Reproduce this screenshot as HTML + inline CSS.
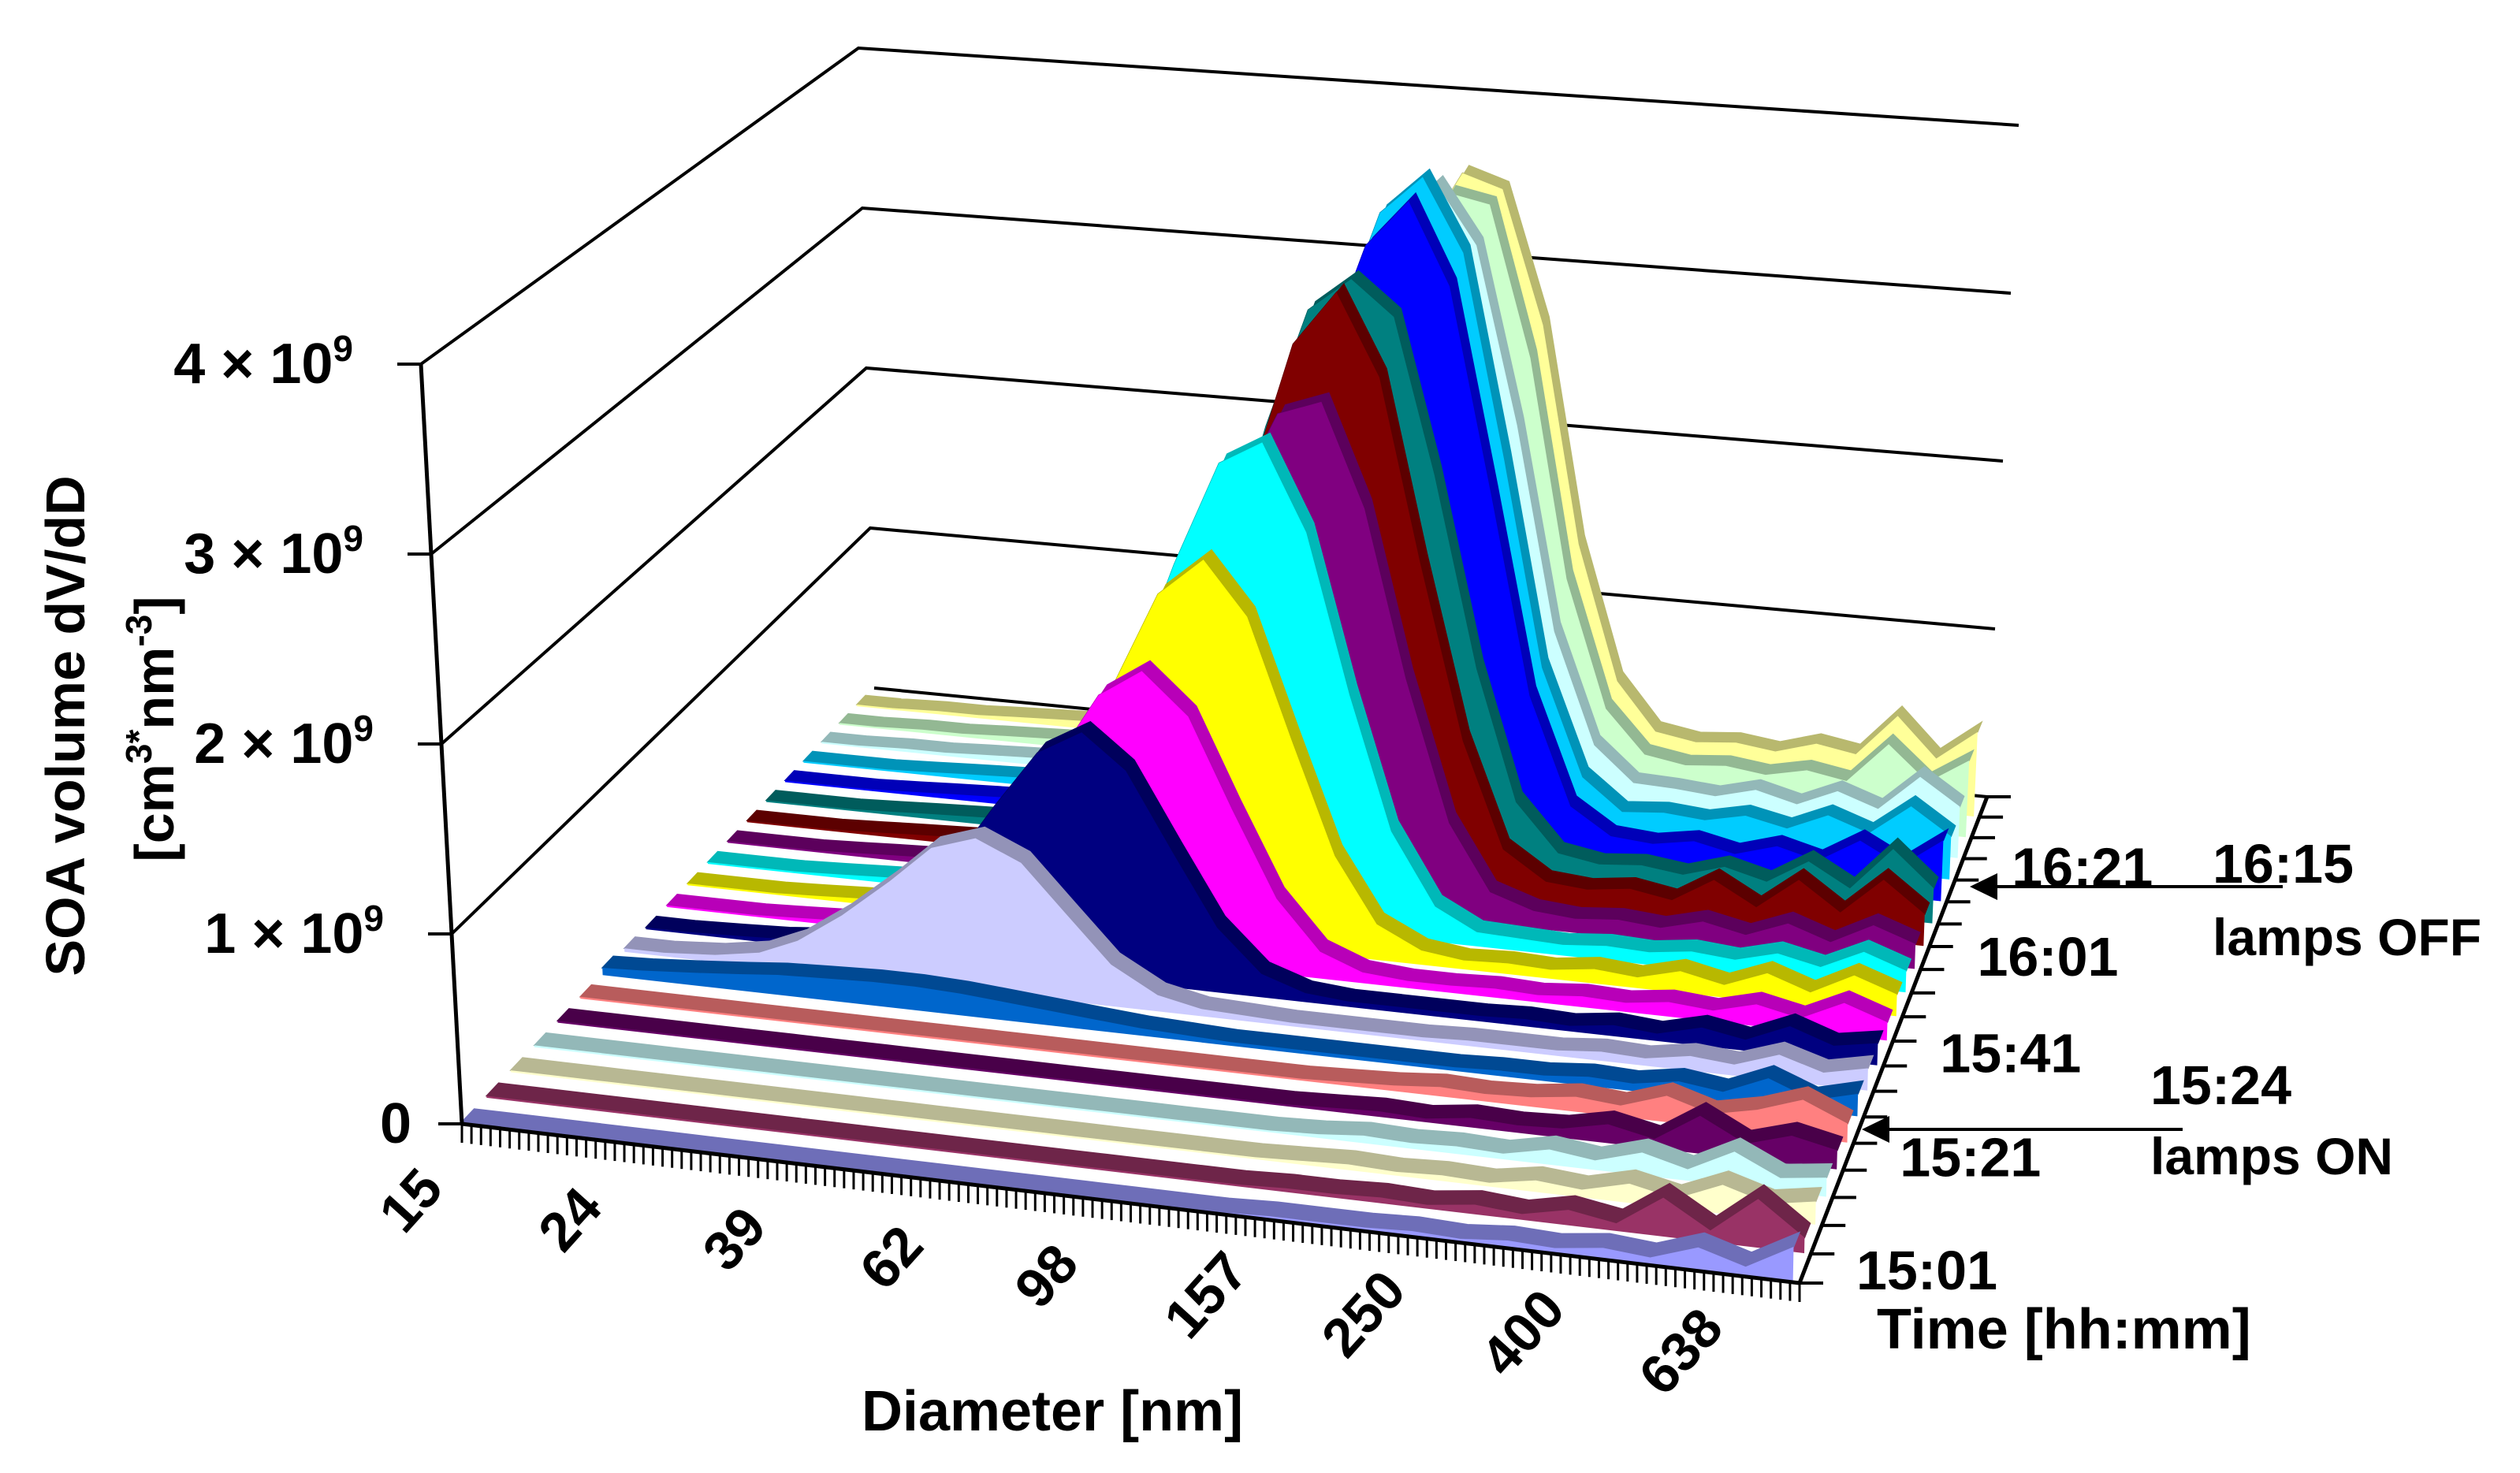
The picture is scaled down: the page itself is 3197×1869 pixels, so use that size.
<!DOCTYPE html>
<html><head><meta charset="utf-8"><style>
html,body{margin:0;padding:0;background:#fff;}
svg{display:block;}
text{font-family:"Liberation Sans",Arial,sans-serif;font-weight:bold;fill:#000;}
</style></head><body>
<svg id="chart" width="3197" height="1869" viewBox="0 0 3197 1869" xmlns="http://www.w3.org/2000/svg">
<g id="walls"></g>
<g id="ribbons"></g>
<g id="axes"></g>
<text transform="rotate(-90)" x="-921" y="107" font-size="70" text-anchor="middle">SOA volume dV/dD</text>
<text transform="rotate(-90)" x="-925" y="220" font-size="70" text-anchor="middle">[cm<tspan font-size="46" dy="-28">3*</tspan><tspan dy="28">nm</tspan><tspan font-size="46" dy="-28">-3</tspan><tspan dy="28">]</tspan></text>
<text x="1335" y="1815" font-size="72" text-anchor="middle">Diameter [nm]</text>
<text x="2381" y="1711" font-size="72">Time [hh:mm]</text>
<g>
<line x1="2896" y1="1125" x2="2520" y2="1125" stroke="#000" stroke-width="4"/>
<polygon points="2499,1125 2534,1108 2534,1142" fill="#000"/>
<text x="2807" y="1120" font-size="70">16:15</text>
<text x="2807" y="1212" font-size="66">lamps OFF</text>
</g>
<g>
<line x1="2769" y1="1433" x2="2380" y2="1433" stroke="#000" stroke-width="4"/>
<polygon points="2362,1433 2397,1416 2397,1450" fill="#000"/>
<text x="2728" y="1401" font-size="70">15:24</text>
<text x="2728" y="1490" font-size="66">lamps ON</text>
</g>
</svg>
<script>
const diameters=[15,17,20,23,26,30,35,40,46,53,61,70,81,93,107,123,141,163,187,216,248,286,329,378,436,501,577,664,764];
const diameterLabels=[15,24,39,62,98,157,250,400,638];
const seriesMinutes=[0,5,10,15,20,25,30,35,40,45,50,55,60,65,70,75,80,85,90,95];
const timeTickLabels=["15:01","15:21","15:41","16:01","16:21"];
const timeTickMinutes=[0,20,40,60,80];
const yTicks=[0,1,2,3,4];
const yTickLabels=["0","1 × 10","2 × 10","3 × 10","4 × 10"];
const seriesColors=["#9999FF","#993366","#FFFFCC","#CCFFFF","#660066","#FF8080","#0066CC","#CCCCFF","#000080","#FF00FF","#FFFF00","#00FFFF","#800080","#800000","#008080","#0000FF","#00CCFF","#CCFFFF","#CCFFCC","#FFFF99"];
const v0=[0.01,0.01,0.01,0.01,0.01,0.01,0.01,0.01,0.01,0.01,0.01,0.01,0.01,0.01,0.01,0.01,0.01,0.02,0.02,0.02,0.03,0.02,0.04,0.03,0.06,0.04,0.12,0.05,0.18];
const v1=[0.01,0.01,0.01,0.01,0.01,0.01,0.01,0.01,0.01,0.01,0.01,0.01,0.01,0.01,0.01,0.01,0.01,0.02,0.02,0.03,0.02,0.05,0.03,0.08,0.04,0.2,0.06,0.25,0.08];
const v2=[0.01,0.01,0.01,0.01,0.01,0.01,0.01,0.01,0.01,0.01,0.01,0.01,0.01,0.01,0.01,0.01,0.01,0.02,0.03,0.02,0.03,0.02,0.06,0.04,0.1,0.05,0.15,0.08,0.12];
const v3=[0.01,0.01,0.01,0.01,0.01,0.01,0.01,0.01,0.01,0.01,0.01,0.01,0.01,0.01,0.01,0.01,0.01,0.02,0.04,0.03,0.04,0.03,0.08,0.05,0.12,0.06,0.18,0.07,0.1];
const v4=[0.01,0.01,0.01,0.01,0.01,0.01,0.01,0.01,0.01,0.01,0.01,0.01,0.01,0.01,0.01,0.01,0.01,0.02,0.03,0.02,0.05,0.04,0.05,0.1,0.05,0.2,0.08,0.15,0.1];
const v5=[0.01,0.01,0.01,0.01,0.01,0.01,0.01,0.01,0.01,0.01,0.01,0.01,0.01,0.01,0.01,0.01,0.01,0.02,0.03,0.05,0.04,0.05,0.08,0.06,0.14,0.07,0.12,0.2,0.1];
const v6=[0.04,0.05,0.07,0.09,0.11,0.12,0.13,0.13,0.12,0.1,0.08,0.06,0.04,0.03,0.02,0.02,0.02,0.02,0.02,0.02,0.03,0.03,0.05,0.04,0.08,0.05,0.15,0.06,0.12];
const v7=[0.02,0.02,0.04,0.08,0.17,0.34,0.56,0.77,0.85,0.74,0.48,0.23,0.09,0.04,0.03,0.02,0.02,0.02,0.02,0.03,0.03,0.03,0.05,0.04,0.08,0.06,0.14,0.07,0.12];
const v8=[0.01,0.01,0.02,0.03,0.05,0.11,0.27,0.55,0.9,1.23,1.37,1.18,0.75,0.36,0.13,0.05,0.03,0.03,0.03,0.03,0.04,0.03,0.06,0.04,0.1,0.06,0.16,0.08,0.12];
const v9=[0.01,0.01,0.01,0.02,0.03,0.05,0.13,0.32,0.65,1.07,1.46,1.62,1.39,0.89,0.42,0.15,0.06,0.04,0.04,0.05,0.04,0.06,0.05,0.08,0.06,0.12,0.07,0.18,0.1];
const v10=[0.01,0.01,0.01,0.02,0.03,0.04,0.06,0.17,0.43,0.86,1.43,1.94,2.16,1.86,1.19,0.56,0.2,0.08,0.05,0.06,0.05,0.08,0.06,0.12,0.07,0.16,0.08,0.2,0.12];
const v11=[0.01,0.01,0.01,0.02,0.03,0.04,0.05,0.12,0.33,0.75,1.35,2.0,2.6,2.74,2.25,1.35,0.6,0.2,0.08,0.07,0.06,0.08,0.07,0.1,0.08,0.14,0.09,0.2,0.12];
const v12=[0.01,0.01,0.01,0.02,0.03,0.04,0.05,0.07,0.18,0.45,0.95,1.6,2.3,2.8,2.89,2.3,1.35,0.55,0.18,0.1,0.08,0.1,0.08,0.14,0.09,0.18,0.1,0.22,0.14];
const v13=[0.01,0.01,0.01,0.02,0.03,0.04,0.05,0.06,0.1,0.28,0.7,1.4,2.3,3.1,3.42,2.95,1.9,0.9,0.3,0.14,0.12,0.15,0.11,0.25,0.12,0.3,0.14,0.35,0.18];
const v14=[0.01,0.01,0.01,0.02,0.03,0.04,0.05,0.06,0.12,0.35,0.85,1.6,2.5,3.2,3.4,3.2,2.3,1.2,0.45,0.18,0.14,0.16,0.13,0.2,0.14,0.28,0.15,0.4,0.2];
const v15=[0.01,0.01,0.01,0.02,0.03,0.04,0.05,0.06,0.08,0.16,0.45,1.05,1.9,2.8,3.5,3.78,3.3,2.1,0.95,0.33,0.18,0.16,0.2,0.15,0.22,0.16,0.3,0.18,0.35];
const v16=[0.01,0.01,0.01,0.02,0.03,0.04,0.05,0.07,0.1,0.2,0.5,1.1,2.0,2.9,3.6,3.83,3.4,2.2,1.0,0.38,0.2,0.22,0.2,0.25,0.2,0.3,0.22,0.4,0.25];
const v17=[0.01,0.01,0.02,0.02,0.03,0.04,0.05,0.07,0.1,0.2,0.5,1.1,1.95,2.8,3.45,3.7,3.35,2.3,1.1,0.45,0.25,0.24,0.22,0.28,0.22,0.32,0.24,0.45,0.3];
const v18=[0.01,0.01,0.02,0.02,0.03,0.04,0.05,0.07,0.09,0.13,0.35,0.85,1.6,2.4,3.1,3.55,3.5,2.6,1.3,0.55,0.3,0.26,0.28,0.25,0.3,0.26,0.5,0.3,0.45];
const v19=[0.01,0.01,0.02,0.02,0.03,0.04,0.05,0.07,0.09,0.15,0.4,0.9,1.7,2.5,3.15,3.58,3.5,2.7,1.4,0.6,0.32,0.28,0.3,0.27,0.34,0.3,0.55,0.32,0.5];
const seriesValues=[v0,v1,v2,v3,v4,v5,v6,v7,v8,v9,v10,v11,v12,v13,v14,v15,v16,v17,v18,v19];

const NS="http://www.w3.org/2000/svg";
const FL=[586,1426],FR=[2283,1628],BL=[1109,873],BR=[2521,1011];
const VFL=[-13,-241],VFR=[5,-250],VBL=[-5,-203],VBR=[10,-213];
const D0=15,D1=779,T_SPAN=100,PERSP=1.21;
function bil(a,b,c,d,u,t){return [(1-u)*(1-t)*a[0]+u*(1-t)*b[0]+(1-u)*t*c[0]+u*t*d[0],(1-u)*(1-t)*a[1]+u*(1-t)*b[1]+(1-u)*t*c[1]+u*t*d[1]];}
function P(u,t,v){const b=bil(FL,FR,BL,BR,u,t),w=bil(VFL,VFR,VBL,VBR,u,t);return [b[0]+v*w[0],b[1]+v*w[1]];}
function xScale(d){return Math.log(d/D0)/Math.log(D1/D0);}
function tScale(min){const s=min/T_SPAN;return PERSP*s/(1+(PERSP-1)*s);}
function pts(a){return a.map(p=>p[0].toFixed(1)+","+p[1].toFixed(1)).join(" ");}
function dark(hex,f){const n=parseInt(hex.slice(1),16);const r=Math.round(((n>>16)&255)*f),g=Math.round(((n>>8)&255)*f),b=Math.round((n&255)*f);return "rgb("+r+","+g+","+b+")";}
function mk(tag,attrs,parent){const e=document.createElementNS(NS,tag);for(const k in attrs)e.setAttribute(k,attrs[k]);parent.appendChild(e);return e;}

const walls=document.getElementById('walls');
yTicks.forEach(v=>{
  const a=P(0,0,v),b=P(0,1,v),c=P(1,1,v);
  const g=mk('polyline',{points:pts(v===0?[b,c]:[a,b,c]),fill:'none',stroke:'#000','stroke-width':4},walls);
  
  
});

const rib=document.getElementById('ribbons');
const halfDepth=2.5;
for(let i=seriesValues.length-1;i>=0;i--){
  const vals=seriesValues[i];
  const t0=tScale(seriesMinutes[i]),t1=tScale(seriesMinutes[i]+halfDepth);
  const front=diameters.map((d,j)=>P(xScale(d),t0,vals[j]));
  const back=diameters.map((d,j)=>P(xScale(d),t1,vals[j]));
  const g=mk('g',{},rib);
  
  
  const top=mk('polygon',{points:pts(front.concat(back.slice().reverse())),fill:dark(seriesColors[i],0.72),stroke:dark(seriesColors[i],0.72),'stroke-width':1.5},g);
  
  
  const base=[P(xScale(diameters[diameters.length-1]),t0,0),P(xScale(diameters[0]),t0,0)];
  const face=mk('polygon',{points:pts(front.concat(base)),fill:seriesColors[i]},g);
  
  
}

const ax=document.getElementById('axes');
let l=mk('line',{x1:P(0,0,0)[0],y1:P(0,0,0)[1],x2:P(0,0,4)[0],y2:P(0,0,4)[1],stroke:'#000','stroke-width':5},ax);


yTicks.forEach((v,k)=>{
  const p=P(0,0,v);
  const tk=mk('line',{x1:p[0]-30,y1:p[1],x2:p[0],y2:p[1],stroke:'#000','stroke-width':4},ax);
  
  
  const tx=mk('text',{x:p[0]-86+(v===0?22:0),y:p[1]+24,'font-size':72,'text-anchor':'end'},ax);
  
  
  tx.textContent=yTickLabels[k];
  if(v!==0){const s=mk('tspan',{'font-size':46,dy:-28},tx);s.textContent='9';}
});
l=mk('line',{x1:FL[0],y1:FL[1],x2:FR[0],y2:FR[1],stroke:'#000','stroke-width':5},ax);


for(let k=0;k<=140;k++){
  const p=P(k/140,0,0);
  const tk=mk('line',{x1:p[0],y1:p[1],x2:p[0],y2:p[1]+24,stroke:'#000','stroke-width':3},ax);
  
  
}
diameterLabels.forEach(d=>{
  const p=P(xScale(d),0,0);const cx=p[0]-65,cy=p[1]+97;
  const tx=mk('text',{x:cx,y:cy,'font-size':70,'text-anchor':'middle','dominant-baseline':'central',transform:'rotate(-48 '+cx+' '+cy+')'},ax);
  
  
  tx.textContent=d;
});
l=mk('line',{x1:FR[0],y1:FR[1],x2:P(1,1,0)[0],y2:P(1,1,0)[1],stroke:'#000','stroke-width':5},ax);


for(let m=0;m<=T_SPAN;m+=5){
  const p=P(1,tScale(m),0);
  const tk=mk('line',{x1:p[0],y1:p[1],x2:p[0]+30,y2:p[1],stroke:'#000','stroke-width':4},ax);
  
  
}
timeTickLabels.forEach((lab,k)=>{
  const p=P(1,tScale(timeTickMinutes[k]),0);
  const tx=mk('text',{x:p[0]+72,y:p[1]+8,'font-size':70},ax);
  
  
  tx.textContent=lab;
});
</script>
</body></html>
